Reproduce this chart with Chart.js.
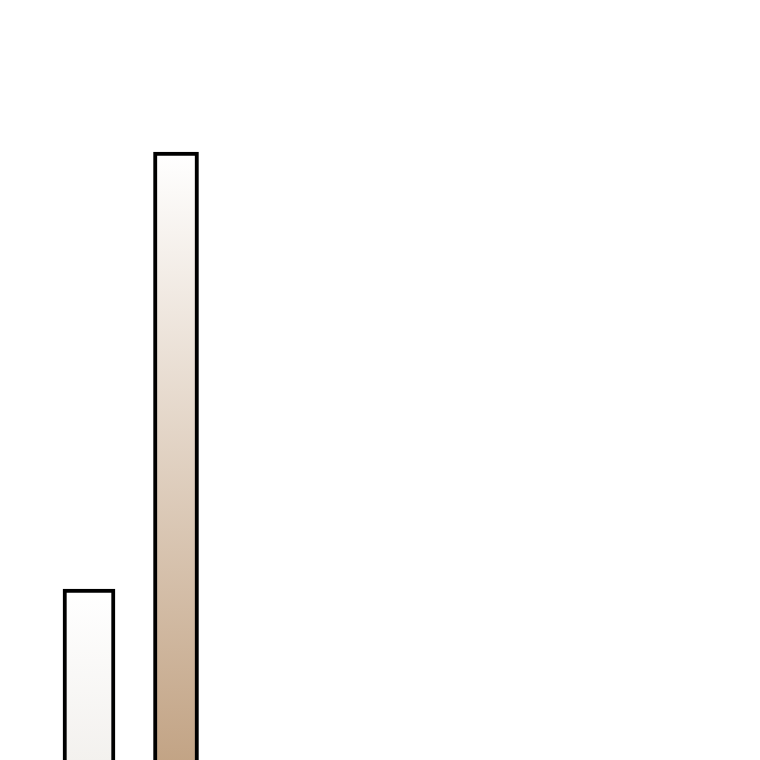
<!DOCTYPE html>
<html>
<head>
<meta charset="utf-8">
<style>
  html, body { margin: 0; padding: 0; background: #ffffff; overflow: hidden; }
  #wrap { width: 760px; height: 760px; overflow: hidden; }
</style>
<script src="https://cdn.jsdelivr.net/npm/chart.js@4.4.1/dist/chart.umd.min.js"></script>
</head>
<body>
<div id="wrap"><canvas id="c" width="760" height="1047"></canvas></div>
<script>
// Data
const categories = ['A', 'B'];
const seriesA = [44, null];
const seriesB = [null, 90];
const yMin = 0;
const yMax = 100;

// Styles
const gradientTop = '#ffffff';
const gradientEnds = ['#e2ddd6', '#aa7f54'];

function barGradient(context) {
  const chart = context.chart;
  if (!chart.chartArea) return gradientTop;
  const v = context.raw;
  if (v == null) return gradientTop;
  const ys = chart.scales.y;
  const top = ys.getPixelForValue(v);
  const base = ys.getPixelForValue(0);
  const g = chart.ctx.createLinearGradient(0, top, 0, base);
  g.addColorStop(0, gradientTop);
  g.addColorStop(1, gradientEnds[context.dataIndex]);
  return g;
}

new Chart(document.getElementById('c'), {
  type: 'bar',
  data: {
    labels: categories,
    datasets: [
      { data: seriesA, barThickness: 52, backgroundColor: barGradient, borderColor: '#000000', borderWidth: 4, grouped: false, skipNull: true },
      { data: seriesB, barThickness: 45, backgroundColor: barGradient, borderColor: '#000000', borderWidth: 4, grouped: false, skipNull: true }
    ]
  },
  options: {
    responsive: false,
    animation: false,
    devicePixelRatio: 1,
    layout: { padding: { left: 45.5, right: 540.5, top: 57, bottom: 40 } },
    plugins: { legend: { display: false }, tooltip: { enabled: false } },
    scales: {
      x: { display: false, offset: true },
      y: { display: false, min: yMin, max: yMax }
    }
  }
});
</script>
</body>
</html>
